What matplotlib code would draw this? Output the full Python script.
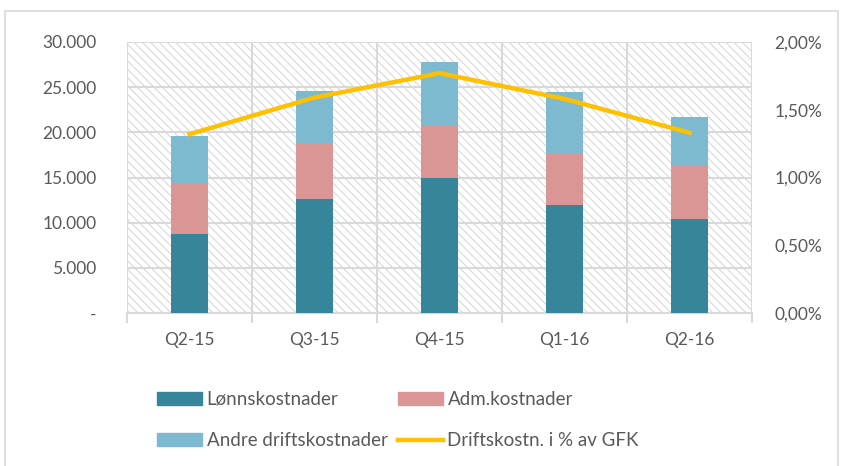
import matplotlib
matplotlib.use('Agg')
import matplotlib.pyplot as plt
from matplotlib.patches import Rectangle
from matplotlib.lines import Line2D
from matplotlib.ticker import FuncFormatter

# data
kvartaler = ['Q2-15', 'Q3-15', 'Q4-15', 'Q1-16', 'Q2-16']
lonn = [8800, 12600, 14950, 11950, 10400]
adm = [5600, 6200, 5850, 5750, 5900]
andre = [5150, 5800, 7000, 6800, 5400]
drift_pst = [0.0132, 0.0159, 0.0177, 0.0158, 0.0133]

farge_lonn = '#37859a'
farge_adm = '#d99694'
farge_andre = '#7ebacf'
farge_linje = '#ffc000'
grid_farge = '#d9d9d9'
tekst_farge = '#595959'

plt.rcParams['font.family'] = ['Lato', 'DejaVu Sans']
plt.rcParams['hatch.linewidth'] = 0.7
plt.rcParams['hatch.color'] = '#d4d4d4'

fig = plt.figure(figsize=(8.42, 4.66), dpi=100)
ax = fig.add_axes([127/842, 1 - 313/466, 625/842, 271/466])

# skravert bakgrunn
ax.add_patch(Rectangle((0, 0), 1, 1, transform=ax.transAxes, facecolor='white',
                       edgecolor='#d4d4d4', hatch='\\\\\\\\', lw=0, zorder=0))

x = list(range(len(kvartaler)))
bunn2 = [a + b for a, b in zip(lonn, adm)]
ax.bar(x, lonn, width=0.3, color=farge_lonn, zorder=3)
ax.bar(x, adm, width=0.3, bottom=lonn, color=farge_adm, zorder=3)
ax.bar(x, andre, width=0.3, bottom=bunn2, color=farge_andre, zorder=3)

ax.set_xlim(-0.5, 4.5)
ax.set_ylim(0, 30000)
ax.set_yticks(range(0, 30001, 5000))
ax.yaxis.set_major_formatter(FuncFormatter(
    lambda v, p: '-' if v == 0 else f'{int(v):,}'.replace(',', '.')))
ax.set_xticks(x)
ax.set_xticklabels(kvartaler)
ax.set_xticks([i - 0.5 for i in range(6)], minor=True)
ax.tick_params(axis='x', which='major', length=0, pad=14, labelsize=12.5, labelcolor=tekst_farge)
ax.tick_params(axis='x', which='minor', length=7, width=1.5, color=grid_farge)
ax.tick_params(axis='y', length=0, pad=22, labelsize=12.5, labelcolor=tekst_farge)
ax.grid(True, axis='y', color=grid_farge, lw=1.5, zorder=1)
ax.grid(True, axis='x', which='minor', color=grid_farge, lw=1.5, zorder=1)
ax.set_axisbelow(True)
for s in ['top', 'left', 'right']:
    ax.spines[s].set_visible(False)
ax.spines['bottom'].set_color(grid_farge)
ax.spines['bottom'].set_linewidth(1.5)

ax2 = ax.twinx()
ax2.plot(x, drift_pst, color=farge_linje, lw=3.2, zorder=5)
ax2.set_ylim(0, 0.02)
ax2.set_yticks([0, 0.005, 0.01, 0.015, 0.02])
ax2.yaxis.set_major_formatter(FuncFormatter(lambda v, p: f'{v*100:.2f}%'.replace('.', ',')))
ax2.tick_params(axis='y', length=0, pad=16, labelsize=12.5, labelcolor=tekst_farge)
for s in ax2.spines.values():
    s.set_visible(False)

# rekkefolge slik at radene blir som i originalen
handles = [
    Rectangle((0, 0), 1, 1, color=farge_lonn),
    Rectangle((0, 0), 1, 1, color=farge_andre),
    Rectangle((0, 0), 1, 1, color=farge_adm),
    Line2D([0], [0], color=farge_linje, lw=3.2),
]
labels = ['Lønnskostnader', 'Andre driftskostnader', 'Adm.kostnader', 'Driftskostn. i % av GFK']
leg = fig.legend(handles, labels, ncol=2, frameon=False, loc='upper left',
                 bbox_to_anchor=(140/842, 1 - 374/466), fontsize=13.5,
                 handlelength=2.4, handleheight=0.7, handletextpad=0.25,
                 labelspacing=1.3, columnspacing=0.55)
for t in leg.get_texts():
    t.set_color(tekst_farge)

# ramme rundt figuren
fig.add_artist(Rectangle((5/842, -0.02), 833/842, 1 - 11/466 + 0.02, transform=fig.transFigure,
                         fill=False, edgecolor=grid_farge, lw=1.2))

fig.savefig('out.png', dpi=100)
